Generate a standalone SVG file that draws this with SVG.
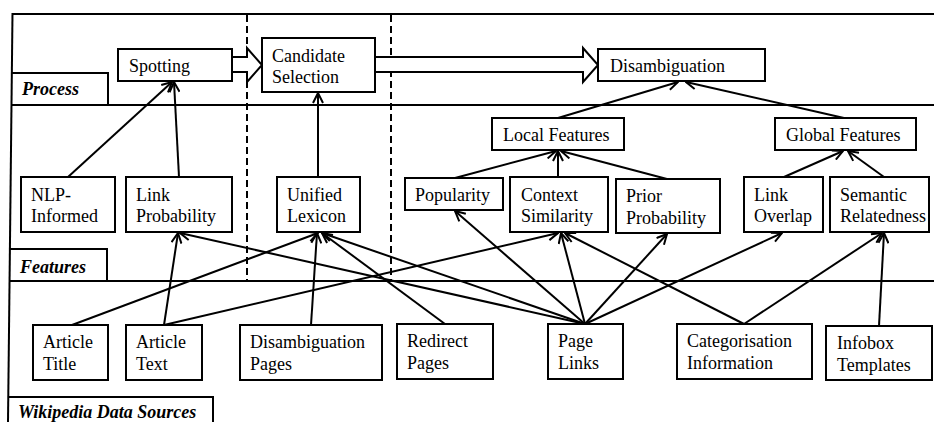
<svg xmlns="http://www.w3.org/2000/svg" width="934" height="422" viewBox="0 0 934 422">
<style>
  .frame{fill:none;stroke:#000;stroke-width:2}
  .dash{fill:none;stroke:#000;stroke-width:2;stroke-dasharray:7 4}
  .box{fill:#fff;stroke:#000;stroke-width:2}
  .t{font-family:"Liberation Serif","Times New Roman",serif;font-size:18px;fill:#000}
  .lab{font-family:"Liberation Serif","Times New Roman",serif;font-size:18px;font-weight:bold;font-style:italic;fill:#000}
  .c{fill:none;stroke:#000;stroke-width:2;marker-end:url(#ah)}
  .big{fill:#fff;stroke:#000;stroke-width:2;stroke-linejoin:miter}
</style>
<defs>
  <marker id="ah" viewBox="0 0 12 12" markerWidth="12" markerHeight="12" refX="11" refY="6" orient="auto" markerUnits="userSpaceOnUse">
    <path d="M1,1 L11,6 L1,11" fill="none" stroke="#000" stroke-width="2"/>
  </marker>
</defs>
<rect width="934" height="422" fill="#fff"/>
<g id="frame">
  <line class="frame" x1="12" y1="14" x2="934" y2="14"/>
  <line class="frame" x1="12.5" y1="13" x2="8" y2="422"/>
  <line class="frame" x1="11" y1="105" x2="934" y2="105"/>
  <line class="frame" x1="9.5" y1="281" x2="934" y2="281"/>
  <line class="dash" x1="247" y1="15" x2="247" y2="280"/>
  <line class="dash" x1="391" y1="15" x2="391" y2="280"/>
</g>
<g id="label-process">
  <polyline class="frame" points="11,73 108,73 108,105"/>
  <text class="lab" x="22" y="95">Process</text>
</g>
<g id="label-features">
  <polyline class="frame" points="10,249 107,249 107,281"/>
  <text class="lab" x="20" y="273">Features</text>
</g>
<g id="label-sources">
  <polyline class="frame" points="8,397 213,397 213,422"/>
  <text class="lab" x="18" y="418">Wikipedia Data Sources</text>
</g>
<g id="flow-arrows">
  <polygon class="big" points="232,57 247,57 247,48 262,65 247,82 247,72 232,72"/>
  <polygon class="big" points="375,57 583,57 583,48 598,65 583,82 583,72 375,72"/>
</g>
<g id="connectors">
  <line class="c" x1="68" y1="177" x2="172" y2="82"/>
  <line class="c" x1="179" y1="177" x2="174" y2="82"/>
  <line class="c" x1="318" y1="177" x2="318" y2="93"/>
  <line class="c" x1="558" y1="118" x2="678" y2="82"/>
  <line class="c" x1="844" y1="118" x2="686" y2="82"/>
  <line class="c" x1="455" y1="178" x2="556" y2="151"/>
  <line class="c" x1="558" y1="177" x2="558" y2="151"/>
  <line class="c" x1="667" y1="179" x2="561" y2="151"/>
  <line class="c" x1="784" y1="177" x2="843" y2="151"/>
  <line class="c" x1="884" y1="177" x2="848" y2="151"/>
  <line class="c" x1="72" y1="325" x2="318" y2="233"/>
  <line class="c" x1="164" y1="325" x2="178" y2="233"/>
  <line class="c" x1="164" y1="325" x2="558" y2="233"/>
  <line class="c" x1="311" y1="325" x2="317" y2="233"/>
  <line class="c" x1="445" y1="324" x2="322" y2="233"/>
  <line class="c" x1="585" y1="324" x2="180" y2="233"/>
  <line class="c" x1="585" y1="324" x2="322" y2="233"/>
  <line class="c" x1="585" y1="324" x2="455" y2="211"/>
  <line class="c" x1="585" y1="324" x2="561" y2="233"/>
  <line class="c" x1="585" y1="324" x2="667" y2="234"/>
  <line class="c" x1="585" y1="324" x2="782" y2="233"/>
  <line class="c" x1="744" y1="324" x2="565" y2="233"/>
  <line class="c" x1="744" y1="324" x2="882" y2="233"/>
  <line class="c" x1="879" y1="326" x2="884" y2="233"/>
</g>
<g id="n-spotting">
  <rect class="box" x="118" y="49" width="114" height="32"/>
  <text class="t" x="129" y="72">Spotting</text>
</g>
<g id="n-candidate">
  <rect class="box" x="262" y="38" width="113" height="54"/>
  <text class="t" x="272" y="62">Candidate</text>
  <text class="t" x="272" y="83">Selection</text>
</g>
<g id="n-disambiguation">
  <rect class="box" x="598" y="49" width="167" height="32"/>
  <text class="t" x="610" y="72">Disambiguation</text>
</g>
<g id="n-local">
  <rect class="box" x="492" y="118" width="132" height="32"/>
  <text class="t" x="503" y="141">Local Features</text>
</g>
<g id="n-global">
  <rect class="box" x="775" y="118" width="141" height="32"/>
  <text class="t" x="786" y="141">Global Features</text>
</g>
<g id="n-nlp">
  <rect class="box" x="21" y="177" width="94" height="55"/>
  <text class="t" x="31" y="201">NLP-</text>
  <text class="t" x="31" y="222">Informed</text>
</g>
<g id="n-linkprob">
  <rect class="box" x="126" y="177" width="106" height="55"/>
  <text class="t" x="136" y="201">Link</text>
  <text class="t" x="136" y="222">Probability</text>
</g>
<g id="n-lexicon">
  <rect class="box" x="277" y="177" width="83" height="55"/>
  <text class="t" x="287" y="201">Unified</text>
  <text class="t" x="287" y="222">Lexicon</text>
</g>
<g id="n-popularity">
  <rect class="box" x="405" y="178" width="98" height="32"/>
  <text class="t" x="415" y="201">Popularity</text>
</g>
<g id="n-context">
  <rect class="box" x="510" y="177" width="98" height="55"/>
  <text class="t" x="521" y="201">Context</text>
  <text class="t" x="521" y="222">Similarity</text>
</g>
<g id="n-prior">
  <rect class="box" x="616" y="179" width="104" height="54"/>
  <text class="t" x="626" y="202">Prior</text>
  <text class="t" x="626" y="224">Probability</text>
</g>
<g id="n-overlap">
  <rect class="box" x="744" y="177" width="79" height="55"/>
  <text class="t" x="754" y="201">Link</text>
  <text class="t" x="754" y="222">Overlap</text>
</g>
<g id="n-semantic">
  <rect class="box" x="830" y="177" width="99" height="55"/>
  <text class="t" x="840" y="201">Semantic</text>
  <text class="t" x="840" y="222">Relatedness</text>
</g>
<g id="n-title">
  <rect class="box" x="33" y="325" width="75" height="55"/>
  <text class="t" x="43" y="348">Article</text>
  <text class="t" x="43" y="370">Title</text>
</g>
<g id="n-text">
  <rect class="box" x="126" y="325" width="76" height="55"/>
  <text class="t" x="136" y="348">Article</text>
  <text class="t" x="136" y="370">Text</text>
</g>
<g id="n-disambpages">
  <rect class="box" x="240" y="325" width="142" height="55"/>
  <text class="t" x="250" y="348">Disambiguation</text>
  <text class="t" x="250" y="370">Pages</text>
</g>
<g id="n-redirect">
  <rect class="box" x="397" y="324" width="96" height="55"/>
  <text class="t" x="407" y="347">Redirect</text>
  <text class="t" x="407" y="369">Pages</text>
</g>
<g id="n-pagelinks">
  <rect class="box" x="548" y="324" width="75" height="55"/>
  <text class="t" x="558" y="347">Page</text>
  <text class="t" x="558" y="369">Links</text>
</g>
<g id="n-categ">
  <rect class="box" x="677" y="324" width="135" height="55"/>
  <text class="t" x="687" y="347">Categorisation</text>
  <text class="t" x="687" y="369">Information</text>
</g>
<g id="n-infobox">
  <rect class="box" x="826" y="326" width="106" height="54"/>
  <text class="t" x="837" y="349">Infobox</text>
  <text class="t" x="837" y="371">Templates</text>
</g>
</svg>
